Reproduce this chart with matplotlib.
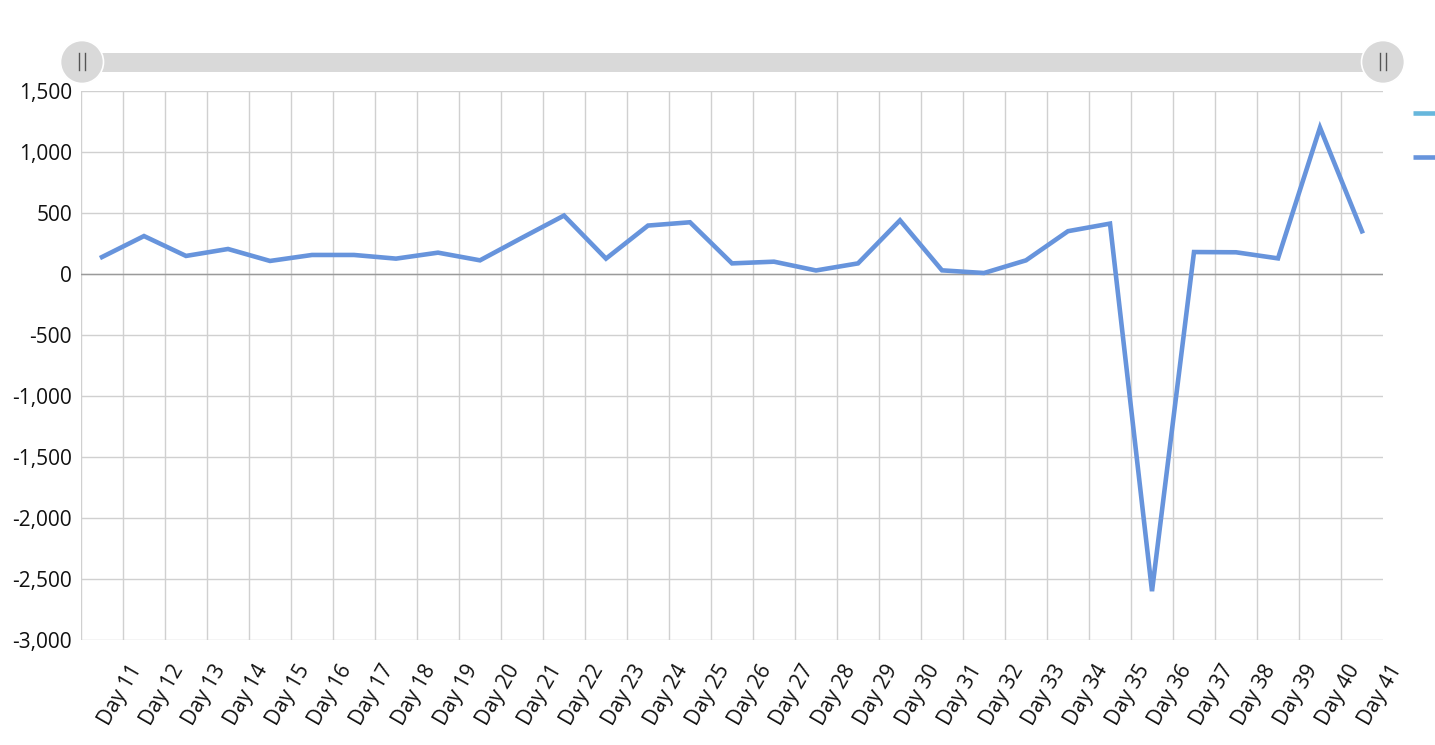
import matplotlib.pyplot as plt
import matplotlib.transforms as mtransforms
from matplotlib.patches import Circle, FancyBboxPatch
from matplotlib.ticker import FuncFormatter, FixedLocator
import numpy as np

plt.rcParams['font.family'] = ['Open Sans', 'DejaVu Sans']

# data
days = ["Day %d" % d for d in range(11, 42)]
values = [139, 311, 148, 205, 107, 156, 156, 126, 175, 112,
          297, 479, 126, 397, 424, 87, 101, 29, 87, 440,
          30, 8, 112, 351, 413, -2600, 180, 178, 128, 1200, 350]
y_ticks = list(range(-3000, 1501, 500))

line_color = "#6794dc"
legend_colors = ["#67b7dc", "#6794dc"]
grid_color = "#d0d0d0"

W, H = 1435, 745
fig = plt.figure(figsize=(W / 100, H / 100), dpi=100)
left, right, top, bottom = 81, 1383, 91, 640
ax = fig.add_axes([left / W, (H - bottom) / H, (right - left) / W, (bottom - top) / H])

x = np.arange(len(days))
ax.plot(x, values, color=line_color, lw=3.3, solid_joinstyle="miter", zorder=3)

ax.set_xlim(-0.5, len(days) - 0.5)
ax.set_ylim(-3000, 1500)

# horizontal grid
ax.set_yticks(y_ticks)
ax.yaxis.set_major_formatter(FuncFormatter(lambda v, p: f"{int(v):,}"))
ax.grid(axis="y", color=grid_color, lw=1)
ax.axhline(0, color="#9a9a9a", lw=1, zorder=2)

# vertical grid at cell boundaries (no line at right edge)
ax.xaxis.set_minor_locator(FixedLocator(np.arange(len(days)) - 0.5))
ax.grid(axis="x", which="minor", color=grid_color, lw=1)
ax.set_xticks(x)
ax.set_xticklabels(days)
ax.tick_params(axis="x", which="both", length=0, pad=0)
ax.tick_params(axis="y", length=0, pad=6.5, labelsize=15, labelcolor="#111111")

# rotated labels sit right of the cell centre, as in the original
offset = mtransforms.ScaledTranslation(35 / 100, -26 / 100, fig.dpi_scale_trans)
for lab in ax.get_xticklabels():
    lab.set_rotation(60)
    lab.set_rotation_mode("anchor")
    lab.set_ha("right")
    lab.set_va("center")
    lab.set_fontsize(15)
    lab.set_color("#111111")
    lab.set_transform(lab.get_transform() + offset)

for s in ax.spines.values():
    s.set_visible(False)

# overlay for scrollbar and legend markers (pixel coordinates)
ov = fig.add_axes([0, 0, 1, 1], zorder=5)
ov.set_xlim(0, W)
ov.set_ylim(H, 0)
ov.axis("off")
ov.patch.set_alpha(0)

ov.add_patch(FancyBboxPatch((100, 53), 1265, 19, boxstyle="square,pad=0",
                            fc="#d9d9d9", ec="none"))
for cx in (82, 1383):
    ov.add_patch(Circle((cx, 62), 21.5, fc="#d9d9d9", ec="white", lw=1.2))
    for dx in (-3, 3):
        ov.plot([cx + dx, cx + dx], [53, 70], color="#555555", lw=1)

for yy, c in zip((113, 157), legend_colors):
    ov.plot([1413, 1436], [yy, yy], color=c, lw=3.3, solid_capstyle="butt")

fig.savefig("out.png", dpi=100)
